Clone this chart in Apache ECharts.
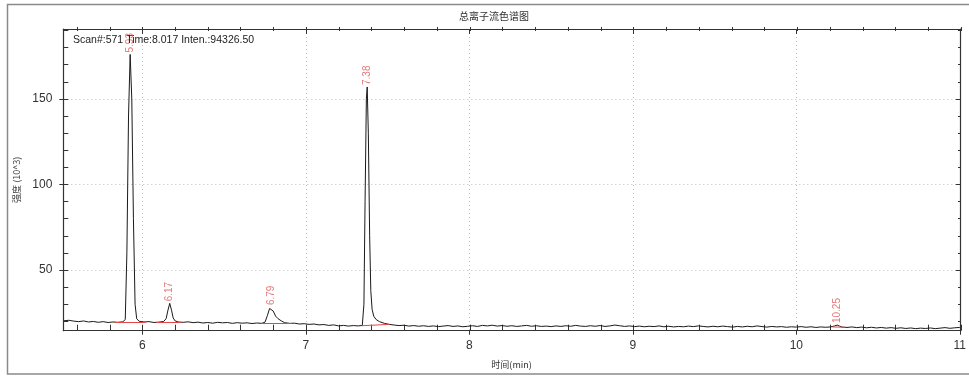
<!DOCTYPE html>
<html><head><meta charset="utf-8">
<script src="https://cdn.jsdelivr.net/npm/echarts@6/dist/echarts.min.js"></script>
<style>html,body{margin:0;padding:0;background:#fff}#c{width:969px;height:376px}</style>
</head><body><div id="c"></div>
<script>
// ---- data ----
const titleText = '总离子流色谱图';
const scanText = 'Scan#:571 Time:8.017 Inten.:94326.50';
const xName = '时间(min)';
const yName = '强度 (10^3)';
const xMin = 5.516, xMax = 11;
const yMin = 14.5, yMax = 190.9;

const times = [5.52,5.55,5.58,5.61,5.64,5.67,5.70,5.73,5.76,5.79,5.82,5.85,5.88,
 5.895,5.905,5.915,5.925,5.935,5.945,5.955,5.965,5.98,
 6.01,6.04,6.07,6.10,6.13,
 6.145,6.155,6.167,6.178,6.188,6.20,6.22,
 6.25,6.28,6.31,6.34,6.37,6.40,6.43,6.46,6.49,6.52,6.55,6.58,6.61,6.64,6.67,6.70,6.73,6.75,
 6.765,6.778,6.79,6.80,6.815,6.83,6.85,6.87,6.90,
 6.93,6.96,6.99,7.02,7.05,7.08,7.11,7.14,7.17,7.20,7.23,7.26,7.29,7.32,7.345,
 7.355,7.362,7.37,7.375,7.382,7.39,7.397,7.405,7.415,7.43,7.45,7.48,7.51,
 7.54,7.57,7.60,7.63,7.66,7.69,7.72,7.75,7.78,7.81,7.84,7.87,7.90,7.93,7.96,7.99,
 8.02,8.05,8.08,8.11,8.14,8.17,8.20,8.23,8.26,8.29,8.32,8.35,8.38,8.41,8.44,8.47,8.50,
 8.53,8.56,8.59,8.62,8.65,8.68,8.71,8.74,8.77,8.80,8.83,8.86,8.89,8.92,8.95,8.98,
 9.01,9.04,9.07,9.10,9.13,9.16,9.19,9.22,9.25,9.28,9.31,9.34,9.37,9.40,9.43,9.46,9.49,
 9.52,9.55,9.58,9.61,9.64,9.67,9.70,9.73,9.76,9.79,9.82,9.85,9.88,9.91,9.94,9.97,
 10.00,10.03,10.06,10.09,10.12,10.15,10.18,10.21,10.235,10.25,10.265,10.28,10.31,10.34,10.37,
 10.40,10.43,10.46,10.49,10.52,10.55,10.58,10.61,10.64,10.67,10.70,10.73,10.76,10.79,
 10.82,10.85,10.88,10.91,10.94,10.97,11.00];
const intensity = [20.3,20.6,20.1,19.8,20.2,19.6,19.9,19.4,19.8,19.3,19.6,19.4,19.7,
 21,60,140,176,150,80,30,21.5,20.0,
 19.6,19.8,19.3,19.5,19.9,
 21.5,26,30.5,26.5,22,20.2,19.6,
 19.4,19.7,19.2,19.5,19.0,19.3,18.9,19.4,19.1,19.3,18.8,19.2,18.9,19.1,18.7,19.0,18.8,19.5,
 23.5,27.5,28.3,26,23,21.5,20.2,19.2,18.8,
 18.9,18.4,18.6,18.2,18.4,17.9,18.1,17.6,17.9,17.3,17.6,17.2,17.5,17.3,17.6,
 30,90,150,157,130,70,38,27,23,21,19.8,18.8,18.2,
 17.8,17.5,17.7,17.2,17.5,17.1,17.4,17.0,17.3,16.9,17.2,17.5,17.0,17.3,16.8,17.1,
 17.4,17.0,17.6,17.3,17.7,17.2,17.5,17.1,17.4,17.0,17.3,17.6,17.1,17.4,17.0,17.2,16.9,
 17.3,17.0,17.4,17.1,17.6,17.2,17.0,17.4,17.1,17.5,17.0,17.3,17.8,17.4,17.0,17.3,
 16.9,17.2,16.8,17.1,16.9,17.3,16.8,17.1,16.7,17.0,16.8,17.2,16.9,17.3,17.0,16.7,17.1,
 16.8,17.2,16.9,16.6,17.0,16.7,17.1,16.8,17.3,16.9,16.6,17.0,16.7,16.9,16.5,16.8,
 16.6,16.9,16.5,16.8,16.4,16.7,16.5,16.7,17.3,17.8,17.2,16.6,16.4,16.7,16.3,
 16.6,16.2,16.5,16.1,16.4,16.0,16.3,15.9,16.2,15.8,16.1,15.7,16.0,15.8,
 16.1,15.7,16.0,16.3,15.9,16.2,16.4];

// peak labels: retention time, apex intensity, label
const peakTimes = [5.925, 6.167, 6.79, 7.375, 10.25];
const peakApex  = [176, 30.5, 28.3, 157, 17.8];
const peakLabels = ['5.93', '6.17', '6.79', '7.38', '10.25'];
// integration baselines: start time, start value, end time, end value
const baseStartT = [5.83, 6.085, 6.73, 7.34, 10.22];
const baseStartV = [19.6, 19.4, 18.8, 17.4, 16.7];
const baseEndT   = [6.02, 6.24, 6.915, 7.51, 10.30];
const baseEndV   = [19.6, 19.4, 18.6, 18.2, 16.5];

// minor tick axes
const xMinorMin = 5.6, xMinorStep = 0.2;
const yMinorMin = 20, yMinorMax = 190, yMinorStep = 10;

// ---- layout ----
const G = {left: 63.3, right: 8, top: 29, bottom: 45.3};
const plotW = 969 - G.left - G.right, plotH = 376 - G.top - G.bottom;
const pxPerX = plotW / (xMax - xMin), pxPerY = plotH / (yMax - yMin);
const gridXMinor = {left: G.left + (xMinorMin - xMin) * pxPerX, right: G.right, top: G.top, bottom: G.bottom};
const gridYMinor = {left: G.left, right: G.right, top: G.top + (yMax - yMinorMax) * pxPerY, bottom: G.bottom + (yMinorMin - yMin) * pxPerY};

const axisCol = '#333';
const latin = 'Liberation Sans, Arial, sans-serif';
const cjk = 'Noto Sans CJK SC, sans-serif';

const chart = echarts.init(document.getElementById('c'), null, {renderer: 'canvas'});
const noLbl = {show: false};
const hidden = {show: false};
const tickStyle = {color: axisCol, width: 1};
const dummy = (grid, pos) => ({gridIndex: grid, type: 'value', position: pos, min: 0, max: 1, show: false,
  axisLine: hidden, axisTick: hidden, axisLabel: noLbl, splitLine: hidden});

chart.setOption({
  animation: false,
  backgroundColor: '#fff',
  grid: [
    Object.assign({}, G),
    gridXMinor,
    gridYMinor
  ],
  xAxis: [
    {gridIndex: 0, type: 'value', position: 'bottom', min: xMin, max: xMax, splitNumber: 5,
     name: xName, nameLocation: 'middle', nameGap: 29,
     nameTextStyle: {fontFamily: cjk, fontSize: 9, color: '#333'},
     axisLine: {show: true, onZero: false, lineStyle: {color: axisCol, width: 1.2}},
     axisTick: {show: true, inside: false, length: 4, lineStyle: tickStyle},
     axisLabel: {show: true, showMinLabel: false, margin: 9, fontFamily: latin, fontSize: 12, color: '#333'},
     splitLine: {show: true, lineStyle: {color: '#bdbdbd', type: [1, 3], width: 1}}},
    {gridIndex: 0, type: 'value', position: 'top', min: xMin, max: xMax, splitNumber: 5,
     axisLine: {show: true, onZero: false, lineStyle: {color: axisCol, width: 1.2}},
     axisTick: {show: true, inside: true, length: 5, lineStyle: tickStyle},
     axisLabel: noLbl, splitLine: hidden},
    {gridIndex: 1, type: 'value', position: 'bottom', min: xMinorMin, max: xMax, interval: xMinorStep, offset: 3,
     axisLine: hidden, axisTick: {show: true, inside: true, length: 6, lineStyle: tickStyle},
     axisLabel: noLbl, splitLine: hidden},
    {gridIndex: 1, type: 'value', position: 'top', min: xMinorMin, max: xMax, interval: xMinorStep, offset: 2,
     axisLine: hidden, axisTick: {show: true, inside: true, length: 4, lineStyle: tickStyle},
     axisLabel: noLbl, splitLine: hidden},
    dummy(2, 'bottom')
  ],
  yAxis: [
    {gridIndex: 0, type: 'value', position: 'left', min: yMin, max: yMax, splitNumber: 4,
     name: yName, nameLocation: 'middle', nameGap: 42, nameRotate: 90,
     nameTextStyle: {fontFamily: cjk, fontSize: 9, color: '#444'},
     axisLine: {show: true, onZero: false, lineStyle: {color: axisCol, width: 1.2}},
     axisTick: {show: true, inside: false, length: 4, lineStyle: tickStyle},
     axisLabel: {show: true, showMinLabel: false, showMaxLabel: false, margin: 11, fontFamily: latin, fontSize: 12, color: '#333'},
     splitLine: {show: true, lineStyle: {color: '#bdbdbd', type: [1, 3], width: 1}}},
    {gridIndex: 0, type: 'value', position: 'right', min: yMin, max: yMax, splitNumber: 4,
     axisLine: {show: true, onZero: false, lineStyle: {color: axisCol, width: 1.2}},
     axisTick: {show: true, inside: true, length: 4, lineStyle: tickStyle},
     axisLabel: noLbl, splitLine: hidden},
    {gridIndex: 2, type: 'value', position: 'left', min: yMinorMin, max: yMinorMax, interval: yMinorStep, offset: 2,
     axisLine: hidden, axisTick: {show: true, inside: true, length: 5, lineStyle: tickStyle},
     axisLabel: noLbl, splitLine: hidden},
    {gridIndex: 2, type: 'value', position: 'right', min: yMinorMin, max: yMinorMax, interval: yMinorStep, offset: 0,
     axisLine: hidden, axisTick: {show: true, inside: true, length: 3, lineStyle: tickStyle},
     axisLabel: noLbl, splitLine: hidden},
    dummy(1, 'left')
  ],
  series: [
    {type: 'line', xAxisIndex: 0, yAxisIndex: 0, showSymbol: false, symbol: 'none',
     lineStyle: {color: '#1a1a1a', width: 1}, z: 3,
     data: times.map((t, i) => [t, intensity[i]]),
     markLine: {silent: true, symbol: ['none', 'none'], label: {show: false},
       lineStyle: {color: '#e04848', type: 'solid', width: 1},
       data: baseStartT.map((t, i) => [{coord: [t, baseStartV[i]]}, {coord: [baseEndT[i], baseEndV[i]]}])}},
    {type: 'scatter', xAxisIndex: 0, yAxisIndex: 0, symbolSize: 0, z: 4,
     data: peakTimes.map((t, i) => [t, peakApex[i], peakLabels[i]]),
     label: {show: true, position: 'top', distance: 2, rotate: 90, align: 'left', verticalAlign: 'middle',
       formatter: p => p.value[2], fontFamily: latin, fontSize: 10, color: '#e05656'}}
  ],
  graphic: [
    {type: 'rect', shape: {x: 7.5, y: 4.5, width: 970, height: 369.5}, style: {fill: 'none', stroke: '#8a8a8a', lineWidth: 1.5}, z: 100},
    {type: 'text', x: 494, y: 16, style: {text: titleText, fontFamily: cjk, fontSize: 10, fill: '#333', textAlign: 'center', textVerticalAlign: 'middle'}, z: 100},
    {type: 'text', x: 73, y: 40, style: {text: scanText, fontFamily: latin, fontSize: 10.5, fill: '#222', textAlign: 'left', textVerticalAlign: 'middle'}, z: 100}
  ]
});
</script>
</body></html>
